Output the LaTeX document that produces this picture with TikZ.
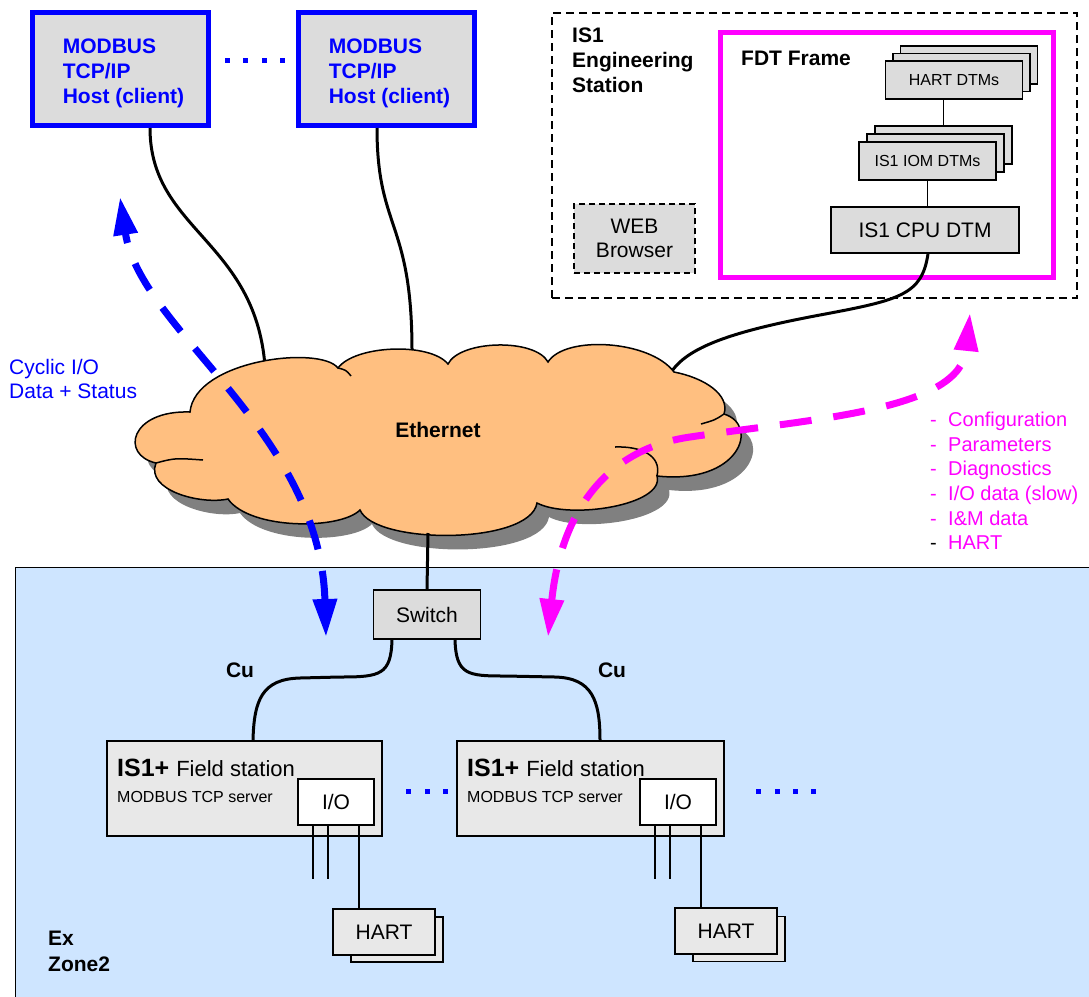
\documentclass[tikz,border=0pt]{standalone}
\usepackage{fontspec}
\setmainfont{Liberation Sans}
\usepackage{tikz}
\usetikzlibrary{arrows.meta}

\definecolor{hostgray}{RGB}{220,220,220}
\definecolor{stationgray}{RGB}{232,232,232}
\definecolor{cloudorange}{RGB}{255,191,128}
\definecolor{shadowgray}{RGB}{128,128,128}
\definecolor{zoneblue}{RGB}{206,229,255}
\definecolor{modblue}{RGB}{0,0,255}
\definecolor{fdtmagenta}{RGB}{255,0,255}

\newcommand{\setfs}[2]{\fontsize{#1}{#2}\selectfont}
\newcommand{\ethercloud}{(190,412) .. controls (195,360) and (320,345) .. (338,368)
  .. controls (355,345) and (430,342) .. (448,364)
  .. controls (460,340) and (535,338) .. (548,362)
  .. controls (565,335) and (650,340) .. (674,372)
  .. controls (705,378) and (730,395) .. (724,414)
  .. controls (760,425) and (740,485) .. (657,476)
  .. controls (665,505) and (570,520) .. (537,503)
  .. controls (530,545) and (375,545) .. (360,510)
  .. controls (340,530) and (250,530) .. (228,499)
  .. controls (200,505) and (145,490) .. (156,463)
  .. controls (120,455) and (130,410) .. (190,412) -- cycle}

\begin{document}
\begin{tikzpicture}[x=1pt,y=-1pt,>={Triangle[length=38pt,width=23pt]},
    host/.style={draw=modblue,line width=5pt,fill=hostgray,minimum width=176pt,minimum height=113pt},
    hosttext/.style={align=left,text=modblue,font=\setfs{21}{25}\bfseries,inner sep=0pt},
    box/.style={draw,line width=1.5pt,fill=hostgray,inner sep=0pt,font=\setfs{21}{24}},
    dtm/.style={box,minimum width=137pt,minimum height=38pt,font=\setfs{16}{19}},
    station/.style={box,fill=stationgray,minimum height=95pt},
    hartbox/.style={box,fill=stationgray,minimum width=102pt,minimum height=46pt},
    cable/.style={line width=3pt},
    ioline/.style={line width=1.5pt},
    flow/.style={<->,line width=7pt},
    bold/.style={font=\setfs{21}{25}\bfseries,inner sep=0pt}]

  \useasboundingbox (0,0) rectangle (1089,996);

  % Ex zone 2
  \draw[fill=zoneblue,line width=1pt] (15,567) rectangle (1110,1010);
  \node[bold,anchor=north west,align=left] (exzone) at (48,931) {Ex\\[1pt]Zone2};

  % MODBUS hosts
  \node[host] (host1) at (120.5,69) {};
  \node[host] (host2) at (386.5,69) {};
  \node[hosttext] (host1txt) at ([shift={(3,4.5)}]host1.center) {MODBUS\\TCP/IP\\Host (client)};
  \node[hosttext] (host2txt) at ([shift={(3,4.5)}]host2.center) {MODBUS\\TCP/IP\\Host (client)};
  \foreach \x in {227,245,264,282}
    \fill[modblue] (\x-2.5,57.5) rectangle ++(5,5);

  % engineering station
  \node[draw,line width=1.5pt,dash pattern=on 8pt off 5pt,minimum width=525pt,minimum height=285pt] (eng) at (814.5,155.5) {};
  \node[bold,anchor=north west,align=left] (englabel) at (572,28) {IS1\\Engineering\\Station};
  \node[box,dash pattern=on 6pt off 4pt,minimum width=121pt,minimum height=69pt,align=center] (web) at (634.5,238.5) {WEB\\Browser};

  \node[draw=fdtmagenta,line width=5pt,minimum width=333pt,minimum height=245pt] (fdt) at (887,155) {};
  \node[bold,anchor=west] (fdtlabel) at (741,58) {FDT Frame};

  \foreach \k in {2,1} {
    \node[dtm] (hart\k) at (954+7.5*\k,80-7.5*\k) {};
    \node[dtm] (iom\k) at (927.5+8*\k,161-8*\k) {};
  }
  \node[dtm] (hart) at (954,80) {HART DTMs};
  \node[dtm] (iom) at (927.5,161) {IS1 IOM DTMs};
  \node[box,minimum width=188pt,minimum height=46pt] (cpu) at (925,230) {IS1 CPU DTM};
  \draw[ioline] (iom2.north |- hart.south) -- (iom2.north);
  \draw[ioline] (iom.south) -- (iom.south |- cpu.north);

  % Ethernet
  \coordinate (c-h1) at (265,366);
  \coordinate (c-h2) at (412,351);
  \coordinate (c-eng) at (672,371);
  \coordinate (c-sw) at (428,533);
  \draw[cable] ([xshift=29.5pt]host1.south) .. controls (150,230) and (255,240) .. (c-h1);
  \draw[cable] ([xshift=-9.5pt]host2.south) .. controls (377,230) and (412,220) .. (c-h2);
  \draw[cable] ([xshift=3pt]cpu.south) .. controls (922,295) and (900,300) .. (820,315)
    .. controls (740,330) and (690,345) .. (c-eng);

  \fill[shadowgray,shift={(12,14)}] \ethercloud;
  \filldraw[fill=cloudorange,line width=1.5pt] \ethercloud;
  \draw[line width=1.5pt] (657,476) .. controls (662,455) and (640,446) .. (615,447);
  \draw[line width=1.5pt] (724,414) .. controls (715,420) .. (701,424);
  \draw[line width=1.5pt] (338,368) .. controls (346,370) .. (351,376);
  \draw[line width=1.5pt] (156,463) .. controls (175,458) .. (203,460);
  \node[bold] (eth) at (438,430) {Ethernet};

  % switch and field stations
  \node[box,minimum width=107pt,minimum height=49pt] (sw) at (427,614.5) {Switch};
  \draw[cable] (c-sw) -- (sw.north);

  \node[station,minimum width=275pt] (fs1) at (244.5,788.5) {};
  \node[station,minimum width=267pt] (fs2) at (590.5,788.5) {};
  \node[bold] (cu1) at (240,670) {Cu};
  \node[bold] (cu2) at (612,670) {Cu};
  \draw[cable] ([xshift=-35pt]sw.south) .. controls (391,675) and (380,677) .. (340,677) -- (300,678)
    .. controls (262,679) and (254,700) .. ([xshift=8.5pt]fs1.north);
  \draw[cable] ([xshift=28pt]sw.south) .. controls (456,675) and (468,676) .. (505,676) -- (555,677)
    .. controls (592,678) and (600,700) .. ([xshift=9.5pt]fs2.north);

  \foreach \n/\x in {1/117,2/467} {
    \node[anchor=west,inner sep=0pt] (fs\n title) at (\x,768) {\setfs{25}{30}\bfseries IS1+ \setfs{22}{26}\mdseries Field station};
    \node[anchor=west,inner sep=0pt,font=\setfs{16}{19}] (fs\n sub) at (\x,797) {MODBUS TCP server};
  }
  \node[box,fill=white,minimum width=76pt,minimum height=46pt] (io1) at (336,802) {I/O};
  \node[box,fill=white,minimum width=76pt,minimum height=46pt] (io2) at (678,802) {I/O};

  \node[hartbox,minimum width=92pt,minimum height=45pt] (hart1b) at (397,939.5) {};
  \node[hartbox] (hart1) at (384,932) {HART};
  \node[hartbox,minimum width=92pt,minimum height=45pt] (hart2b) at (739,939) {};
  \node[hartbox] (hart2) at (726,931) {HART};

  \foreach \n in {1,2} {
    \foreach \dx in {-23,-8}
      \draw[ioline] ([xshift=\dx pt]io\n.south) -- ++(0,53);
    \draw[ioline] ([xshift=23pt]io\n.south) -- ([xshift=23pt]io\n.south |- hart\n.north);
  }
  \foreach \x in {408,427,445,758,777,795,813}
    \fill[modblue] (\x-2.5,788.5) rectangle ++(5,5);

  % data flows
  \coordinate (cyc-top) at (120,197);
  \coordinate (cyc-bot) at (326,637);
  \coordinate (cfg-top) at (970,313);
  \coordinate (cfg-bot) at (548,637);
  \draw[flow,modblue,dash pattern=on 30pt off 22pt] (cyc-bot) .. controls (320,430) and (140,330) .. (cyc-top);
  \draw[flow,fdtmagenta,dash pattern=on 32pt off 22pt] (cfg-bot) .. controls (560,520) and (600,450) .. (690,437)
    .. controls (820,418) and (960,410) .. (cfg-top);

  \node[anchor=north west,inner sep=0pt,align=left,text=modblue,font=\setfs{21}{24}] (cyclic) at (9,359) {Cyclic I/O\\Data + Status};
  \node[anchor=north west,inner sep=0pt,align=left,text=fdtmagenta,font=\setfs{20}{24.6}] (legend) at (930,412)
    {\makebox[18pt][l]{-}Configuration\\ \makebox[18pt][l]{-}Parameters\\ \makebox[18pt][l]{-}Diagnostics\\
     \makebox[18pt][l]{-}I/O data (slow)\\ \makebox[18pt][l]{-}I\&M data\\ \textcolor{black}{\makebox[18pt][l]{-}}HART};
\end{tikzpicture}
\end{document}
